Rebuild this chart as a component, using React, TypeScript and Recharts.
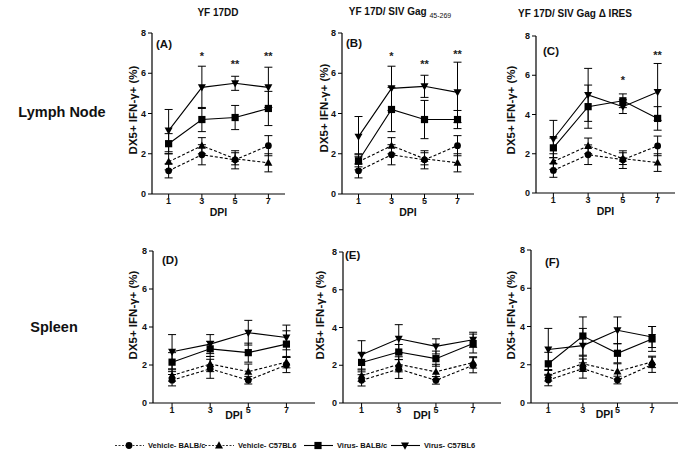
import React from "react";
import { LineChart, Line, XAxis, YAxis, ErrorBar, ReferenceDot } from "recharts";

const FONT = '"Liberation Sans", Arial, sans-serif';

const days = [1, 3, 5, 7];
const yTicks = [0, 2, 4, 6, 8];

// lymph node - vehicle groups (same in A, B, C)
const lnVehBalb = [1.15, 1.95, 1.7, 2.4];
const lnVehBalbSd = [0.35, 0.5, 0.45, 0.5];
const lnVehC57 = [1.6, 2.4, 1.75, 1.55];
const lnVehC57Sd = [0.4, 0.4, 0.3, 0.45];

// spleen - vehicle groups (same in D, E, F)
const spVehBalb = [1.2, 1.8, 1.2, 2.0];
const spVehBalbSd = [0.3, 0.5, 0.2, 0.4];
const spVehC57 = [1.45, 2.05, 1.65, 2.15];
const spVehC57Sd = [0.3, 0.4, 0.4, 0.3];

// virus groups per panel
const aVirBalb = [2.5, 3.7, 3.8, 4.25];
const aVirBalbSd = [0.5, 0.6, 0.6, 0.85];
const aVirC57 = [3.15, 5.3, 5.5, 5.3];
const aVirC57Sd = [1.05, 1.05, 0.35, 1.0];

const bVirBalb = [1.65, 4.2, 3.7, 3.7];
const bVirBalbSd = [0.3, 1.1, 0.95, 0.45];
const bVirC57 = [2.85, 5.25, 5.35, 5.05];
const bVirC57Sd = [1.0, 1.1, 0.55, 1.5];

const cVirBalb = [2.3, 4.4, 4.7, 3.8];
const cVirBalbSd = [0.5, 1.1, 0.35, 0.6];
const cVirC57 = [2.75, 5.0, 4.4, 5.15];
const cVirC57Sd = [0.95, 1.35, 0.35, 1.45];

const dVirBalb = [2.15, 2.85, 2.65, 3.1];
const dVirBalbSd = [0.5, 0.4, 0.5, 0.7];
const dVirC57 = [2.7, 3.1, 3.7, 3.45];
const dVirC57Sd = [0.9, 0.5, 0.65, 0.65];

const eVirBalb = [2.15, 2.7, 2.35, 3.15];
const eVirBalbSd = [0.5, 0.4, 0.4, 0.5];
const eVirC57 = [2.55, 3.4, 3.0, 3.35];
const eVirC57Sd = [0.75, 0.75, 0.4, 0.4];

const fVirBalb = [2.05, 3.5, 2.6, 3.35];
const fVirBalbSd = [0.6, 1.0, 0.5, 0.65];
const fVirC57 = [2.8, 3.0, 3.8, 3.45];
const fVirC57Sd = [1.1, 0.9, 0.7, 0.55];

// significance marks
const aStars = [{ day: 3, y: 6.9, text: "*" }, { day: 5, y: 6.5, text: "**" }, { day: 7, y: 6.9, text: "**" }];
const bStars = [{ day: 3, y: 6.9, text: "*" }, { day: 5, y: 6.5, text: "**" }, { day: 7, y: 7.0, text: "**" }];
const cStars = [{ day: 5, y: 5.8, text: "*" }, { day: 7, y: 7.1, text: "**" }];

const titles = ["YF 17DD", "YF 17D/ SIV Gag", "YF 17D/ SIV Gag \u0394 IRES"];

const series = [
  { key: "vehBalb", name: "Vehicle- BALB/c", dashed: true, shape: "circle" },
  { key: "vehC57", name: "Vehicle- C57BL6", dashed: true, shape: "up" },
  { key: "virBalb", name: "Virus- BALB/c", dashed: false, shape: "square" },
  { key: "virC57", name: "Virus- C57BL6", dashed: false, shape: "down" },
];

const panels = [
  { tag: "(A)", vehBalb: lnVehBalb, vehBalbSd: lnVehBalbSd, vehC57: lnVehC57, vehC57Sd: lnVehC57Sd, virBalb: aVirBalb, virBalbSd: aVirBalbSd, virC57: aVirC57, virC57Sd: aVirC57Sd, stars: aStars },
  { tag: "(B)", vehBalb: lnVehBalb, vehBalbSd: lnVehBalbSd, vehC57: lnVehC57, vehC57Sd: lnVehC57Sd, virBalb: bVirBalb, virBalbSd: bVirBalbSd, virC57: bVirC57, virC57Sd: bVirC57Sd, stars: bStars },
  { tag: "(C)", vehBalb: lnVehBalb, vehBalbSd: lnVehBalbSd, vehC57: lnVehC57, vehC57Sd: lnVehC57Sd, virBalb: cVirBalb, virBalbSd: cVirBalbSd, virC57: cVirC57, virC57Sd: cVirC57Sd, stars: cStars },
  { tag: "(D)", vehBalb: spVehBalb, vehBalbSd: spVehBalbSd, vehC57: spVehC57, vehC57Sd: spVehC57Sd, virBalb: dVirBalb, virBalbSd: dVirBalbSd, virC57: dVirC57, virC57Sd: dVirC57Sd, stars: [] },
  { tag: "(E)", vehBalb: spVehBalb, vehBalbSd: spVehBalbSd, vehC57: spVehC57, vehC57Sd: spVehC57Sd, virBalb: eVirBalb, virBalbSd: eVirBalbSd, virC57: eVirC57, virC57Sd: eVirC57Sd, stars: [] },
  { tag: "(F)", vehBalb: spVehBalb, vehBalbSd: spVehBalbSd, vehC57: spVehC57, vehC57Sd: spVehC57Sd, virBalb: fVirBalb, virBalbSd: fVirBalbSd, virC57: fVirC57, virC57Sd: fVirC57Sd, stars: [] },
];

// plot-area boxes in page pixels, plus label nudges
const boxes = [
  { left: 152, top: 33, right: 285, bottom: 194, xMax: 8, dpiOff: 3, tagDx: 4, tagDy: 11, yLabX: 133, yLabY: 110 },
  { left: 342, top: 33, right: 474, bottom: 194, xMax: 8, dpiOff: 3, tagDx: 4, tagDy: 10, yLabX: 324, yLabY: 108 },
  { left: 536, top: 36, right: 675, bottom: 193, xMax: 8, dpiOff: 3, tagDx: 7, tagDy: 15, yLabX: 511, yLabY: 110 },
  { left: 153, top: 251, right: 315, bottom: 403, xMax: 8.5, dpiOff: 9, tagDx: 9, tagDy: 9, yLabX: 133, yLabY: 315 },
  { left: 343, top: 252, right: 501, bottom: 403, xMax: 8.5, dpiOff: 9, tagDx: 2, tagDy: 3, yLabX: 320, yLabY: 315 },
  { left: 531, top: 250, right: 678, bottom: 403, xMax: 8.5, dpiOff: 10, tagDx: 14, tagDy: 12, yLabX: 511, yLabY: 315 },
];

const Marker = ({ shape, cx, cy }: any) => {
  if (cx == null || cy == null) return null;
  if (shape === "circle") return <circle cx={cx} cy={cy} r={3.4} fill="#000" />;
  if (shape === "square") return <rect x={cx - 3.6} y={cy - 3.6} width={7.2} height={7.2} fill="#000" />;
  if (shape === "up")
    return <polygon points={`${cx},${cy - 4.2} ${cx + 4},${cy + 3} ${cx - 4},${cy + 3}`} fill="#000" />;
  return <polygon points={`${cx},${cy + 4.2} ${cx + 4},${cy - 3} ${cx - 4},${cy - 3}`} fill="#000" />;
};

const tickStyle = { fontSize: 9, fontWeight: 700, fill: "#111", fontFamily: FONT };

function Panel({ p, box }: any) {
  const YW = 26;
  const MT = 8;
  const MR = 10;
  const XH = 25;
  const width = YW + (box.right - box.left) + MR;
  const height = MT + (box.bottom - box.top) + XH;
  const rows = days.map((d, i) => {
    const r: any = { day: d };
    series.forEach((s) => {
      r[s.key] = p[s.key][i];
      r[s.key + "Sd"] = p[s.key + "Sd"][i];
    });
    return r;
  });

  return (
    <div style={{ position: "absolute", left: box.left - YW, top: box.top - MT }}>
      <LineChart width={width} height={height} data={rows} margin={{ top: MT, right: MR, bottom: 0, left: 0 }}>
        <XAxis
          type="number"
          dataKey="day"
          domain={[0, box.xMax]}
          ticks={days}
          height={XH}
          tickSize={4}
          tickMargin={0}
          tick={tickStyle}
          axisLine={{ stroke: "#000", strokeWidth: 1.2 }}
          tickLine={{ stroke: "#000" }}
          label={{ value: "DPI", position: "insideBottom", offset: box.dpiOff, fontSize: 10.5, fontWeight: 700, fill: "#111", fontFamily: FONT }}
        />
        <YAxis
          domain={[0, 8]}
          ticks={yTicks}
          width={YW}
          tickSize={4}
          tickMargin={2}
          tick={tickStyle}
          axisLine={{ stroke: "#000", strokeWidth: 1.2 }}
          tickLine={{ stroke: "#000" }}
        />
        {series.map((s) => (
          <Line
            key={s.key}
            dataKey={s.key}
            stroke="#000"
            strokeWidth={1.1}
            strokeDasharray={s.dashed ? "3 2" : undefined}
            isAnimationActive={false}
            dot={(d: any) => <Marker key={`${s.key}-${d.index}`} shape={s.shape} cx={d.cx} cy={d.cy} />}
            activeDot={false}
          >
            <ErrorBar dataKey={s.key + "Sd"} width={4} stroke="#000" strokeWidth={1} direction="y" isAnimationActive={false} />
          </Line>
        ))}
        {p.stars.map((st: any, i: number) => (
          <ReferenceDot
            key={i}
            x={st.day}
            y={st.y}
            r={0}
            fill="none"
            stroke="none"
            label={(lp: any) => (
              <text
                x={lp.viewBox.x + lp.viewBox.width / 2}
                y={lp.viewBox.y + lp.viewBox.height / 2 + 5}
                textAnchor="middle"
                fontSize={11}
                fontWeight={700}
                fill="#222"
                fontFamily={FONT}
              >
                {st.text}
              </text>
            )}
          />
        ))}
      </LineChart>
    </div>
  );
}

const abs = (left: number, top: number, extra: any = {}) => ({
  position: "absolute" as const,
  left,
  top,
  transform: "translate(-50%, -50%)",
  whiteSpace: "nowrap" as const,
  fontFamily: FONT,
  fontWeight: 700,
  color: "#111",
  ...extra,
});

const legendItems = [115, 205, 304, 391];

const Legend = () => (
  <svg width={685} height={20} style={{ position: "absolute", left: 0, top: 436 }}>
    {series.map((s, i) => {
      const x0 = legendItems[i];
      return (
        <g key={s.key}>
          <line x1={x0} y1={9.5} x2={x0 + 29} y2={9.5} stroke="#000" strokeWidth={s.dashed ? 0.8 : 1.1} strokeDasharray={s.dashed ? "2 1.5" : undefined} />
          <Marker shape={s.shape} cx={x0 + 14} cy={9.5} />
          <text x={x0 + 33} y={12} fontSize={7.5} fontWeight={700} fill="#111" fontFamily={FONT}>
            {s.name}
          </text>
        </g>
      );
    })}
  </svg>
);

export default function App() {
  return (
    <div style={{ position: "absolute", left: 0, top: 0, width: 685, height: 459, background: "#fff", overflow: "hidden" }}>
      <div style={abs(218, 12, { fontSize: 10 })}>{titles[0]}</div>
      <div style={abs(400, 12, { fontSize: 10 })}>
        {titles[1]} <sub style={{ fontSize: 7, fontWeight: 400 }}>45-269</sub>
      </div>
      <div style={abs(575, 13, { fontSize: 10 })}>{titles[2]}</div>

      <div style={abs(62, 112, { fontSize: 14.5 })}>Lymph Node</div>
      <div style={abs(54, 327, { fontSize: 14.5 })}>Spleen</div>

      {panels.map((p, i) => (
        <Panel key={p.tag} p={p} box={boxes[i]} />
      ))}

      {panels.map((p, i) => {
        const b = boxes[i];
        return (
          <React.Fragment key={p.tag + "-lab"}>
            <div style={{ position: "absolute", left: b.left + b.tagDx, top: b.top + b.tagDy, transform: "translateY(-50%)", fontFamily: FONT, fontWeight: 700, fontSize: 11.5, color: "#111" }}>
              {p.tag}
            </div>
            <div style={abs(b.yLabX, b.yLabY, { fontSize: 11.5, transform: "translate(-50%, -50%) rotate(-90deg)" })}>
              DX5+ IFN-{"\u03b3"}+ (%)
            </div>
          </React.Fragment>
        );
      })}

      <Legend />
    </div>
  );
}
